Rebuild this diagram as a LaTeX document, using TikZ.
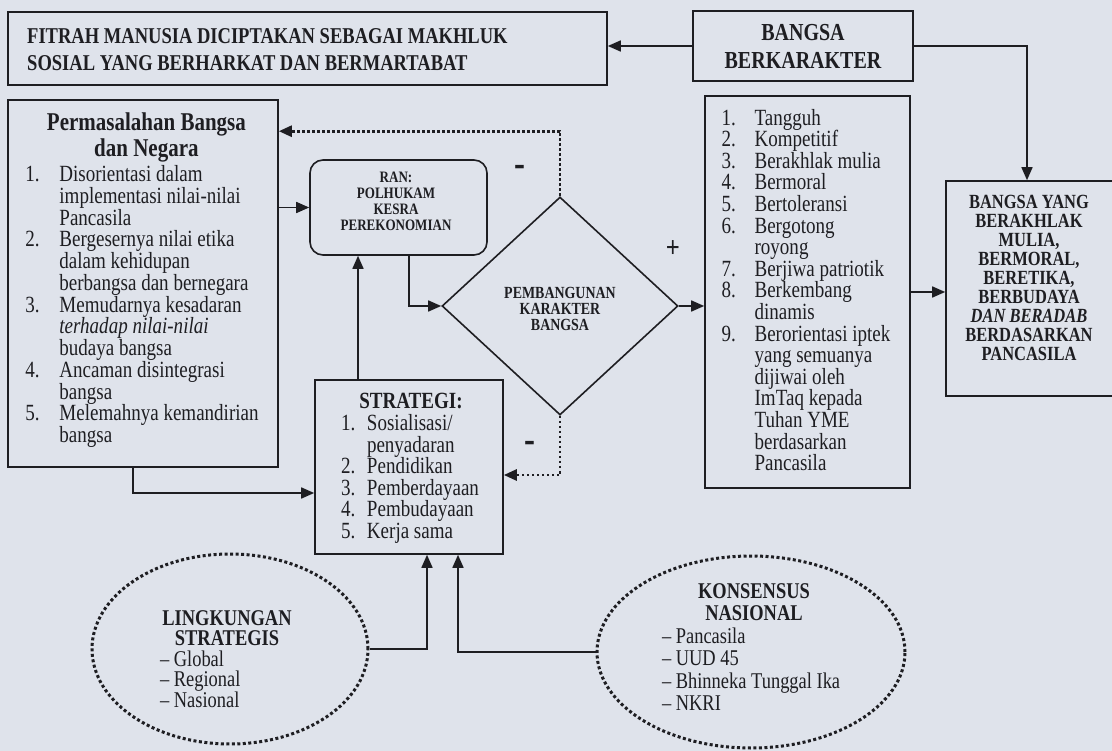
\documentclass[tikz,border=0pt]{standalone}
\usepackage{fontspec}
\setmainfont[FakeStretch=0.82]{Liberation Serif}
\usetikzlibrary{arrows.meta,shapes.geometric}
\definecolor{bg}{RGB}{223,227,235}
\definecolor{ink}{RGB}{30,30,34}
\begin{document}
\begin{tikzpicture}[x=1pt,y=-1pt,
  box/.style={draw=ink,line width=1.6pt,inner sep=0pt},
  arr/.style={draw=ink,line width=1.6pt,-{Triangle[length=13pt,width=11pt]}},
  dotarr/.style={draw=ink,line width=2.7pt,dash pattern=on 2.7pt off 2.3pt,-{Triangle[length=13pt,width=11pt]}},
  dotell/.style={draw=ink,ellipse,line width=3pt,dash pattern=on 3pt off 2.5pt,inner sep=0pt},
  txt/.style={text=ink,inner sep=0pt},
  sign/.style={text=ink,inner sep=0pt,font=\fontsize{30}{30}\selectfont\bfseries},
  minus/.style={text=ink,inner sep=0pt,font=\fontsize{40}{40}\selectfont\bfseries}]
\fill[bg] (0,0) rectangle (1112,751);
\useasboundingbox (0,0) rectangle (1112,751);

% title
\node[box,minimum width=599,minimum height=73] (title) at (307.5,48.5) {};
\node[txt,anchor=west,align=left,font=\fontsize{22.6}{27}\selectfont\bfseries] (titletxt) at (27,50)
  {FITRAH MANUSIA DICIPTAKAN SEBAGAI MAKHLUK\\SOSIAL YANG BERHARKAT DAN BERMARTABAT};

% bangsa berkarakter
\node[box,minimum width=220,minimum height=70,align=center,
  font=\fontsize{24.4}{28}\selectfont\bfseries,text=ink] (bangsa) at (803,46)
  {BANGSA\\BERKARAKTER};

% permasalahan
\node[box,minimum width=270,minimum height=367] (perm) at (143,283.5) {};
\node[txt,align=left,font=\fontsize{23.2}{21.75}\selectfont] (permtxt) at (142,280)
 {\makebox[226pt][c]{\hspace{16pt}\fontsize{25.6}{24}\selectfont\bfseries Permasalahan Bangsa}\\[2.5pt]
  \makebox[226pt][c]{\hspace{16pt}\fontsize{25.6}{24}\selectfont\bfseries dan Negara}\\[3pt]
  \makebox[34pt][l]{1.}Disorientasi dalam\\
  \hspace*{34pt}implementasi nilai-nilai\\
  \hspace*{34pt}Pancasila\\
  \makebox[34pt][l]{2.}Bergesernya nilai etika\\
  \hspace*{34pt}dalam kehidupan\\
  \hspace*{34pt}berbangsa dan bernegara\\
  \makebox[34pt][l]{3.}Memudarnya kesadaran\\
  \hspace*{34pt}\textit{terhadap nilai-nilai}\\
  \hspace*{34pt}budaya bangsa\\
  \makebox[34pt][l]{4.}Ancaman disintegrasi\\
  \hspace*{34pt}bangsa\\
  \makebox[34pt][l]{5.}Melemahnya kemandirian\\
  \hspace*{34pt}bangsa};

% RAN
\node[box,rounded corners=13pt,minimum width=177,minimum height=95] (ran) at (398.5,207.5) {};
\node[txt,align=center,font=\fontsize{15.9}{16}\selectfont\bfseries] (rantxt) at (396,201)
  {RAN:\\POLHUKAM\\KESRA\\PEREKONOMIAN};

% diamond
\node[draw=ink,line width=1.6pt,diamond,minimum width=236,minimum height=218,inner sep=0pt] (dia) at (560,306) {};
\node[txt,align=center,font=\fontsize{17}{16}\selectfont\bfseries] (diatxt) at (560,309)
  {PEMBANGUNAN\\KARAKTER\\BANGSA};

% strategi
\node[box,minimum width=188,minimum height=174] (strat) at (409,467) {};
\node[txt,align=left,font=\fontsize{23.2}{21.5}\selectfont] (strattxt) at (411,468)
 {\makebox[140pt][c]{\bfseries STRATEGI:}\\[1pt]
  \makebox[26pt][l]{1.}Sosialisasi/\\
  \hspace*{26pt}penyadaran\\
  \makebox[26pt][l]{2.}Pendidikan\\
  \makebox[26pt][l]{3.}Pemberdayaan\\
  \makebox[26pt][l]{4.}Pembudayaan\\
  \makebox[26pt][l]{5.}Kerja sama};

% list of characters
\node[box,minimum width=205,minimum height=392] (list) at (807.5,292) {};
\node[txt,align=left,font=\fontsize{23.2}{21.6}\selectfont] (listtxt) at (806,290)
 {\makebox[33pt][l]{1.}Tangguh\\
  \makebox[33pt][l]{2.}Kompetitif\\
  \makebox[33pt][l]{3.}Berakhlak mulia\\
  \makebox[33pt][l]{4.}Bermoral\\
  \makebox[33pt][l]{5.}Bertoleransi\\
  \makebox[33pt][l]{6.}Bergotong\\
  \hspace*{33pt}royong\\
  \makebox[33pt][l]{7.}Berjiwa patriotik\\
  \makebox[33pt][l]{8.}Berkembang\\
  \hspace*{33pt}dinamis\\
  \makebox[33pt][l]{9.}Berorientasi iptek\\
  \hspace*{33pt}yang semuanya\\
  \hspace*{33pt}dijiwai oleh\\
  \hspace*{33pt}ImTaq kepada\\
  \hspace*{33pt}Tuhan YME\\
  \hspace*{33pt}berdasarkan\\
  \hspace*{33pt}Pancasila};

% right result box
\node[box,minimum width=168,minimum height=215] (right) at (1030,288.5) {};
\node[txt,align=center,font=\fontsize{20.1}{19}\selectfont\bfseries] (righttxt) at (1029,278)
  {BANGSA YANG\\BERAKHLAK\\MULIA,\\BERMORAL,\\BERETIKA,\\BERBUDAYA\\\textit{DAN BERADAB}\\BERDASARKAN\\PANCASILA};

% ellipses
\node[dotell,minimum width=276,minimum height=190] (ling) at (230,649) {};
\node[txt,align=left,font=\fontsize{22.5}{20.5}\selectfont] (lingtxt) at (227,659)
 {\makebox[134pt][c]{\bfseries LINGKUNGAN}\\
  \makebox[134pt][c]{\bfseries STRATEGIS}\\
  -- Global\\
  -- Regional\\
  -- Nasional};

\node[dotell,minimum width=308,minimum height=192] (kons) at (751,652) {};
\node[txt,align=left,font=\fontsize{22.5}{22.5}\selectfont] (konstxt) at (754,647)
 {\makebox[184pt][c]{\bfseries KONSENSUS}\\
  \makebox[184pt][c]{\bfseries NASIONAL}\\
  -- Pancasila\\
  -- UUD 45\\
  -- Bhinneka Tunggal Ika\\
  -- NKRI};

% signs
\node[minus] (minus1) at (520,171) {-};
\node[sign] (plus1) at (673,249) {+};
\node[minus] (minus2) at (530,447) {-};

% connectors
\draw[arr] (bangsa.west) -- (bangsa.west -| title.east);
\draw[arr] (bangsa.east) -| ([xshift=-3pt]right.north);
\draw[arr] (ran.west -| perm.east) -- (ran.west);
\draw[arr] ([xshift=-10pt]perm.south) |- ([yshift=-26pt]strat.west);
\draw[arr] ([xshift=-51pt]strat.north) -- ([xshift=-51pt]strat.north |- ran.south);
\draw[arr] ([xshift=10.5pt]ran.south) |- (dia.west);
\draw[arr] (dia.east) -- (dia.east -| list.west);
\draw[arr] (list.east) -- (list.east -| right.west);
\draw[dotarr] (dia.north) -- ([yshift=65pt]dia.north) -- ([yshift=65pt]dia.north -| perm.east);
\draw[dotarr] (dia.south) |- ([yshift=-8pt]strat.east);
\draw[arr] (ling.east) -| ([xshift=18pt]strat.south);
\draw[arr] (kons.west) -| ([xshift=49pt]strat.south);
\end{tikzpicture}
\end{document}
